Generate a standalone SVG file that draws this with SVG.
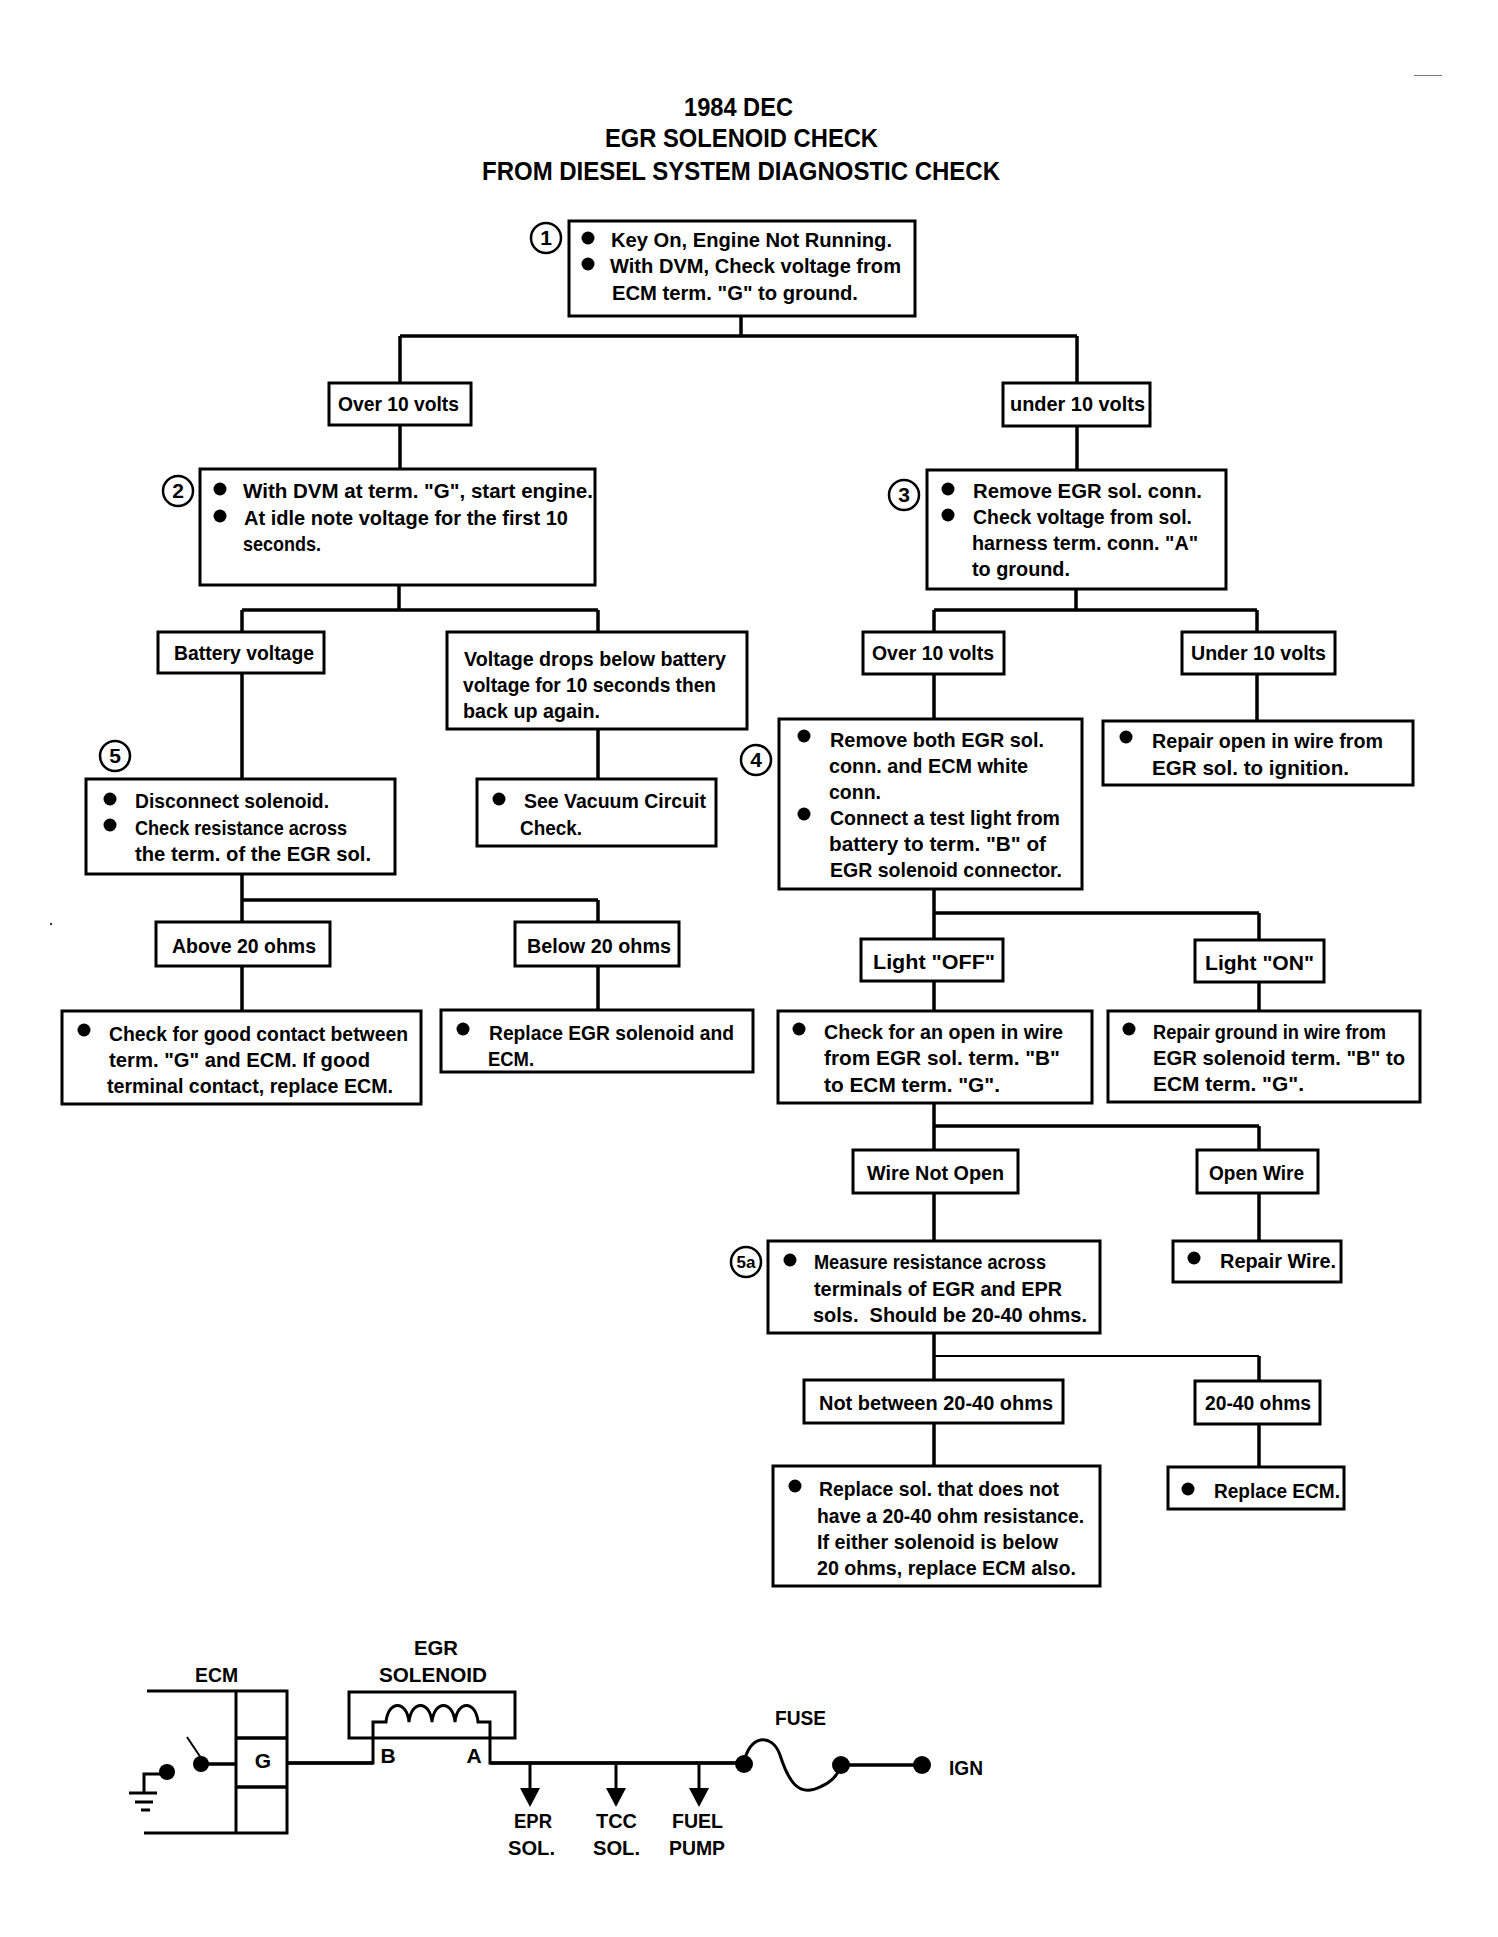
<svg xmlns="http://www.w3.org/2000/svg" width="1498" height="1937" viewBox="0 0 1498 1937">
<style>
text{font-family:"Liberation Sans",Arial,sans-serif;font-weight:700;font-size:21px;fill:#000}
.t{font-size:25px}
.s{font-size:21px}
rect.b{fill:#fff;stroke:#000;stroke-width:3}
circle.d{fill:#000;stroke:none}
circle.n{fill:#fff;stroke:#000;stroke-width:2.5}
.n+text,.c{text-anchor:middle}
.ln{fill:none;stroke:#000;stroke-width:3.5}
.th{fill:none;stroke:#000;stroke-width:2}
.w{fill:none;stroke:#000;stroke-width:3}
</style>
<rect width="1498" height="1937" fill="#fff"/>
<g id="noise"><path d="M1414 75.500H1442" stroke="#777" stroke-width="1" fill="none"/><circle cx="51" cy="924" r="1.200" fill="#333"/></g>
<g id="title">
<text class="t" x="684" y="116" textLength="109" lengthAdjust="spacingAndGlyphs">1984 DEC</text>
<text class="t" x="605" y="147" textLength="273" lengthAdjust="spacingAndGlyphs">EGR SOLENOID CHECK</text>
<text class="t" x="482" y="180" textLength="518" lengthAdjust="spacingAndGlyphs">FROM DIESEL SYSTEM DIAGNOSTIC CHECK</text>
</g>
<g id="connectors">
<path class="ln" d="M741 316V336M400 336H1077M400 336V383M1077 336V383M400 425V469M1077 426V470"/>
<path class="ln" d="M399 585V610M242 610H598M242 610V632M598 610V632M1076 589V610M934 610H1257M934 610V632M1257 610V632"/>
<path class="ln" d="M242 673V779M598 729V779M934 674V719M1257 674V721"/>
<path class="ln" d="M242 874V922M242 900H598M598 900V922M242 966V1011M598 966V1010"/>
<path class="ln" d="M934 889V939M934 913H1259M1259 913V940M934 981V1011M1259 982V1011"/>
<path class="ln" d="M934 1103V1150M934 1126H1259M1259 1126V1150M934 1193V1241M1259 1193V1241"/>
<path class="ln" d="M934 1333V1380M1259 1356V1381M934 1423V1466M1259 1424V1467"/>
<path class="th" d="M934 1356H1259"/>
</g>
<g id="n1"><rect class="b" x="569" y="221" width="346" height="95"/><circle class="n" cx="546" cy="238" r="15"/><text class="c" x="546" y="245">1</text><circle class="d" cx="588" cy="238" r="6.500"/><circle class="d" cx="588" cy="264" r="6.500"/>
<text x="611" y="247" textLength="281" lengthAdjust="spacingAndGlyphs">Key On, Engine Not Running.</text>
<text x="610" y="273" textLength="291" lengthAdjust="spacingAndGlyphs">With DVM, Check voltage from</text>
<text x="612" y="300" textLength="246" lengthAdjust="spacingAndGlyphs">ECM term. "G" to ground.</text></g>
<g id="over10a"><rect class="b" x="329" y="383" width="142" height="42"/><text x="338" y="411" textLength="121" lengthAdjust="spacingAndGlyphs">Over 10 volts</text></g>
<g id="under10a"><rect class="b" x="1003" y="383" width="147" height="43"/><text x="1010" y="411" textLength="135" lengthAdjust="spacingAndGlyphs">under 10 volts</text></g>
<g id="n2"><rect class="b" x="200" y="469" width="395" height="116"/><circle class="n" cx="178" cy="491" r="15"/><text class="c" x="178" y="498">2</text><circle class="d" cx="220" cy="489" r="6.500"/><circle class="d" cx="220" cy="516" r="6.500"/>
<text x="243" y="498" textLength="350" lengthAdjust="spacingAndGlyphs">With DVM at term. "G", start engine.</text>
<text x="244" y="525" textLength="324" lengthAdjust="spacingAndGlyphs">At idle note voltage for the first 10</text>
<text x="243" y="551" textLength="78" lengthAdjust="spacingAndGlyphs">seconds.</text></g>
<g id="n3"><rect class="b" x="927" y="470" width="299" height="119"/><circle class="n" cx="904" cy="495" r="15"/><text class="c" x="904" y="502">3</text><circle class="d" cx="948" cy="489" r="6.500"/><circle class="d" cx="948" cy="515" r="6.500"/>
<text x="973" y="498" textLength="229" lengthAdjust="spacingAndGlyphs">Remove EGR sol. conn.</text>
<text x="973" y="524" textLength="219" lengthAdjust="spacingAndGlyphs">Check voltage from sol.</text>
<text x="972" y="550" textLength="226" lengthAdjust="spacingAndGlyphs">harness term. conn. "A"</text>
<text x="972" y="576" textLength="98" lengthAdjust="spacingAndGlyphs">to ground.</text></g>
<g id="battery"><rect class="b" x="158" y="632" width="166" height="41"/><text x="174" y="660" textLength="140" lengthAdjust="spacingAndGlyphs">Battery voltage</text></g>
<g id="drops"><rect class="b" x="447" y="632" width="300" height="97"/>
<text x="464" y="666" textLength="262" lengthAdjust="spacingAndGlyphs">Voltage drops below battery</text>
<text x="463" y="692" textLength="253" lengthAdjust="spacingAndGlyphs">voltage for 10 seconds then</text>
<text x="463" y="718" textLength="137" lengthAdjust="spacingAndGlyphs">back up again.</text></g>
<g id="over10b"><rect class="b" x="863" y="632" width="141" height="42"/><text x="872" y="660" textLength="122" lengthAdjust="spacingAndGlyphs">Over 10 volts</text></g>
<g id="under10b"><rect class="b" x="1182" y="632" width="153" height="42"/><text x="1191" y="660" textLength="135" lengthAdjust="spacingAndGlyphs">Under 10 volts</text></g>
<g id="n5"><rect class="b" x="86" y="779" width="309" height="95"/><circle class="n" cx="115" cy="756" r="15"/><text class="c" x="115" y="763">5</text><circle class="d" cx="110" cy="799" r="6.500"/><circle class="d" cx="110" cy="825" r="6.500"/>
<text x="135" y="808" textLength="194" lengthAdjust="spacingAndGlyphs">Disconnect solenoid.</text>
<text x="135" y="835" textLength="212" lengthAdjust="spacingAndGlyphs">Check resistance across</text>
<text x="135" y="861" textLength="236" lengthAdjust="spacingAndGlyphs">the term. of the EGR sol.</text></g>
<g id="vacuum"><rect class="b" x="477" y="779" width="239" height="67"/><circle class="d" cx="499" cy="799" r="6.500"/>
<text x="524" y="808" textLength="182" lengthAdjust="spacingAndGlyphs">See Vacuum Circuit</text>
<text x="520" y="835" textLength="62" lengthAdjust="spacingAndGlyphs">Check.</text></g>
<g id="n4"><rect class="b" x="779" y="719" width="303" height="170"/><circle class="n" cx="756" cy="760" r="15"/><text class="c" x="756" y="767">4</text><circle class="d" cx="804" cy="736" r="6.500"/><circle class="d" cx="804" cy="814" r="6.500"/>
<text x="830" y="747" textLength="214" lengthAdjust="spacingAndGlyphs">Remove both EGR sol.</text>
<text x="829" y="773" textLength="199" lengthAdjust="spacingAndGlyphs">conn. and ECM white</text>
<text x="829" y="799" textLength="52" lengthAdjust="spacingAndGlyphs">conn.</text>
<text x="830" y="825" textLength="230" lengthAdjust="spacingAndGlyphs">Connect a test light from</text>
<text x="829" y="851" textLength="217" lengthAdjust="spacingAndGlyphs">battery to term. "B" of</text>
<text x="830" y="877" textLength="232" lengthAdjust="spacingAndGlyphs">EGR solenoid connector.</text></g>
<g id="repair-open"><rect class="b" x="1103" y="721" width="310" height="64"/><circle class="d" cx="1126" cy="737" r="6.500"/>
<text x="1152" y="748" textLength="231" lengthAdjust="spacingAndGlyphs">Repair open in wire from</text>
<text x="1152" y="775" textLength="197" lengthAdjust="spacingAndGlyphs">EGR sol. to ignition.</text></g>
<g id="above20"><rect class="b" x="156" y="922" width="174" height="44"/><text x="172" y="953" textLength="144" lengthAdjust="spacingAndGlyphs">Above 20 ohms</text></g>
<g id="below20"><rect class="b" x="515" y="922" width="164" height="44"/><text x="527" y="953" textLength="144" lengthAdjust="spacingAndGlyphs">Below 20 ohms</text></g>
<g id="light-off"><rect class="b" x="861" y="939" width="142" height="42"/><text x="873" y="969" textLength="122" lengthAdjust="spacingAndGlyphs">Light "OFF"</text></g>
<g id="light-on"><rect class="b" x="1195" y="940" width="129" height="42"/><text x="1205" y="970" textLength="109" lengthAdjust="spacingAndGlyphs">Light "ON"</text></g>
<g id="good-contact"><rect class="b" x="62" y="1011" width="359" height="93"/><circle class="d" cx="84" cy="1030" r="6.500"/>
<text x="109" y="1041" textLength="299" lengthAdjust="spacingAndGlyphs">Check for good contact between</text>
<text x="109" y="1067" textLength="261" lengthAdjust="spacingAndGlyphs">term. "G" and ECM. If good</text>
<text x="107" y="1093" textLength="286" lengthAdjust="spacingAndGlyphs">terminal contact, replace ECM.</text></g>
<g id="replace-egr"><rect class="b" x="441" y="1010" width="312" height="62"/><circle class="d" cx="463" cy="1029" r="6.500"/>
<text x="489" y="1040" textLength="245" lengthAdjust="spacingAndGlyphs">Replace EGR solenoid and</text>
<text x="488" y="1066" textLength="46" lengthAdjust="spacingAndGlyphs">ECM.</text></g>
<g id="check-open"><rect class="b" x="778" y="1011" width="314" height="92"/><circle class="d" cx="799" cy="1029" r="6.500"/>
<text x="824" y="1039" textLength="239" lengthAdjust="spacingAndGlyphs">Check for an open in wire</text>
<text x="824" y="1065" textLength="236" lengthAdjust="spacingAndGlyphs">from EGR sol. term. "B"</text>
<text x="824" y="1092" textLength="176" lengthAdjust="spacingAndGlyphs">to ECM term. "G".</text></g>
<g id="repair-ground"><rect class="b" x="1108" y="1011" width="312" height="91"/><circle class="d" cx="1129" cy="1029" r="6.500"/>
<text x="1153" y="1039" textLength="233" lengthAdjust="spacingAndGlyphs">Repair ground in wire from</text>
<text x="1153" y="1065" textLength="252" lengthAdjust="spacingAndGlyphs">EGR solenoid term. "B" to</text>
<text x="1153" y="1091" textLength="151" lengthAdjust="spacingAndGlyphs">ECM term. "G".</text></g>
<g id="wire-not-open"><rect class="b" x="853" y="1150" width="165" height="43"/><text x="867" y="1180" textLength="137" lengthAdjust="spacingAndGlyphs">Wire Not Open</text></g>
<g id="open-wire"><rect class="b" x="1197" y="1150" width="121" height="43"/><text x="1209" y="1180" textLength="95" lengthAdjust="spacingAndGlyphs">Open Wire</text></g>
<g id="n5a"><rect class="b" x="768" y="1241" width="332" height="92"/><circle class="n" cx="746" cy="1262" r="15"/><text class="c" x="746" y="1268" style="font-size:17px">5a</text><circle class="d" cx="790" cy="1260" r="6.500"/>
<text x="814" y="1269" textLength="232" lengthAdjust="spacingAndGlyphs">Measure resistance across</text>
<text x="814" y="1296" textLength="248" lengthAdjust="spacingAndGlyphs">terminals of EGR and EPR</text>
<text x="813" y="1322" textLength="274" lengthAdjust="spacingAndGlyphs" xml:space="preserve">sols.  Should be 20-40 ohms.</text></g>
<g id="repair-wire"><rect class="b" x="1173" y="1241" width="168" height="41"/><circle class="d" cx="1194" cy="1258" r="6.500"/><text x="1220" y="1268" textLength="116" lengthAdjust="spacingAndGlyphs">Repair Wire.</text></g>
<g id="not-between"><rect class="b" x="804" y="1380" width="259" height="43"/><text x="819" y="1410" textLength="234" lengthAdjust="spacingAndGlyphs">Not between 20-40 ohms</text></g>
<g id="ohms2040"><rect class="b" x="1195" y="1381" width="125" height="43"/><text x="1205" y="1410" textLength="106" lengthAdjust="spacingAndGlyphs">20-40 ohms</text></g>
<g id="replace-sol"><rect class="b" x="773" y="1466" width="327" height="120"/><circle class="d" cx="795" cy="1486" r="6.500"/>
<text x="819" y="1496" textLength="240" lengthAdjust="spacingAndGlyphs">Replace sol. that does not</text>
<text x="817" y="1523" textLength="267" lengthAdjust="spacingAndGlyphs">have a 20-40 ohm resistance.</text>
<text x="817" y="1549" textLength="241" lengthAdjust="spacingAndGlyphs">If either solenoid is below</text>
<text x="817" y="1575" textLength="259" lengthAdjust="spacingAndGlyphs">20 ohms, replace ECM also.</text></g>
<g id="replace-ecm"><rect class="b" x="1168" y="1467" width="176" height="42"/><circle class="d" cx="1188" cy="1489" r="6.500"/><text x="1214" y="1498" textLength="126" lengthAdjust="spacingAndGlyphs">Replace ECM.</text></g>
<g id="schematic">
<path class="ln" d="M147 1691H287V1833H144M236 1691V1833" style="stroke-width:3"/>
<path class="ln" d="M236 1738H286M236 1787H286"/>
<path class="w" d="M349 1692H515V1738H349Z"/>
<path class="w" d="M287 1763H373V1722H386C388 1700 407 1700 409 1722C411 1700 430 1700 432 1722C434 1700 453 1700 455 1722C457 1700 476 1700 478 1722H490V1763H737"/>
<path class="ln" d="M287 1763H373M490 1763H737M201 1764H236M841 1765H922"/>
<path class="w" d="M744 1764C748 1735 772 1732 780 1755C788 1780 798 1798 820 1787C830 1783 838 1775 841 1765"/>
<path class="th" d="M201 1758L187 1737"/>
<circle class="d" cx="201" cy="1764" r="8"/><circle class="d" cx="167" cy="1772" r="8"/><circle class="d" cx="744" cy="1764" r="9"/><circle class="d" cx="841" cy="1765" r="9"/><circle class="d" cx="922" cy="1765" r="9"/>
<path class="w" d="M167 1774H144V1793"/>
<path class="w" d="M129 1793H157M135 1802H153M141 1810H150"/>
<path class="w" d="M530 1763V1790M616 1763V1790M699 1763V1790"/>
<path d="M520 1788H540L530 1807ZM606 1788H626L616 1807ZM689 1788H709L699 1807Z"/>
<text class="s" x="195" y="1682" textLength="43" lengthAdjust="spacingAndGlyphs">ECM</text>
<text class="s c" x="263" y="1768">G</text>
<text class="s" x="414" y="1655" textLength="44" lengthAdjust="spacingAndGlyphs">EGR</text>
<text class="s" x="379" y="1682" textLength="108" lengthAdjust="spacingAndGlyphs">SOLENOID</text>
<text class="s c" x="388" y="1763">B</text>
<text class="s c" x="474" y="1763">A</text>
<text class="s" x="514" y="1828" textLength="38" lengthAdjust="spacingAndGlyphs">EPR</text>
<text class="s" x="508" y="1855" textLength="47" lengthAdjust="spacingAndGlyphs">SOL.</text>
<text class="s" x="596" y="1828" textLength="41" lengthAdjust="spacingAndGlyphs">TCC</text>
<text class="s" x="593" y="1855" textLength="47" lengthAdjust="spacingAndGlyphs">SOL.</text>
<text class="s" x="672" y="1828" textLength="51" lengthAdjust="spacingAndGlyphs">FUEL</text>
<text class="s" x="669" y="1855" textLength="56" lengthAdjust="spacingAndGlyphs">PUMP</text>
<text class="s" x="775" y="1725" textLength="51" lengthAdjust="spacingAndGlyphs">FUSE</text>
<text class="s" x="949" y="1775" textLength="34" lengthAdjust="spacingAndGlyphs">IGN</text>
</g>
</svg>
